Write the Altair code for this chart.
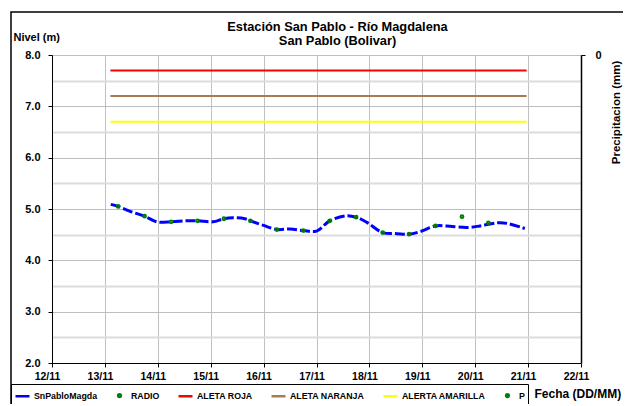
import altair as alt
import pandas as pd

# ---------------- data ----------------
line_times = [
    "2023-11-13T02:40", "2023-11-13T06:00", "2023-11-13T11:45", "2023-11-13T18:00",
    "2023-11-13T23:30", "2023-11-14T06:00", "2023-11-14T13:00", "2023-11-14T18:00",
    "2023-11-15T01:00", "2023-11-15T06:00", "2023-11-15T10:00", "2023-11-15T15:30",
    "2023-11-15T18:00", "2023-11-16T00:00", "2023-11-16T06:00", "2023-11-16T12:00",
    "2023-11-16T18:00", "2023-11-17T00:00", "2023-11-17T06:00", "2023-11-17T13:40",
    "2023-11-17T18:00", "2023-11-17T22:50", "2023-11-18T06:00", "2023-11-18T12:30",
    "2023-11-18T18:00", "2023-11-18T23:00", "2023-11-19T06:00", "2023-11-19T11:00",
    "2023-11-19T20:10", "2023-11-20T02:10", "2023-11-20T10:00", "2023-11-20T14:30",
    "2023-11-20T22:30",
]
line_values = [
    5.09, 5.05, 4.95, 4.86,
    4.75, 4.75, 4.77, 4.77,
    4.75, 4.81, 4.83, 4.81,
    4.77, 4.68, 4.60, 4.61,
    4.58, 4.57, 4.77, 4.87,
    4.84, 4.74, 4.54, 4.52,
    4.51, 4.56, 4.67, 4.67,
    4.64, 4.67, 4.73, 4.72,
    4.62,
]

radio_times = [
    "2023-11-13T06:00", "2023-11-13T18:00", "2023-11-14T06:00", "2023-11-14T18:00",
    "2023-11-15T06:00", "2023-11-15T18:00", "2023-11-16T06:00", "2023-11-16T18:00",
    "2023-11-17T06:00", "2023-11-17T18:00", "2023-11-18T06:00", "2023-11-18T18:00",
    "2023-11-19T06:00", "2023-11-19T18:00", "2023-11-20T06:00",
]
radio_values = [
    5.05, 4.86, 4.75, 4.77,
    4.81, 4.77, 4.60, 4.58,
    4.77, 4.84, 4.54, 4.51,
    4.67, 4.85, 4.73,
]

alert_names = ["ALETA ROJA", "ALETA NARANJA", "ALERTA AMARILLA"]
alert_levels = [7.7, 7.2, 6.7]
alert_colors = ["#ff0000", "#a97c50", "#ffff00"]
alert_start = "2023-11-13T02:30"
alert_end = "2023-11-20T23:20"

precip_values = []

legend_names = ["SnPabloMagda", "RADIO", "ALETA ROJA", "ALETA NARANJA", "ALERTA AMARILLA", "P"]
legend_colors = ["#0000ff", "#008000", "#ff0000", "#a97c50", "#ffff00", "#008000"]
LINE_SHAPE = "M-1,0L1,0"
DOT_SHAPE = "M-0.2,0A0.2,0.2 0 1,0 0.2,0A0.2,0.2 0 1,0 -0.2,0Z"
legend_shapes = [LINE_SHAPE, DOT_SHAPE, LINE_SHAPE, LINE_SHAPE, LINE_SHAPE, DOT_SHAPE]

day_ticks = list(range(12, 23))
y_ticks = [2.0, 2.5, 3.0, 3.5, 4.0, 4.5, 5.0, 5.5, 6.0, 6.5, 7.0, 7.5, 8.0]

FONT = "Liberation Sans"

# ---------------- scales / axes ----------------
x_scale = alt.Scale(domain=[alt.DateTime(year=2023, month=11, date=12),
                            alt.DateTime(year=2023, month=11, date=22)])
x_axis = alt.Axis(
    values=[alt.DateTime(year=2023, month=11, date=d) for d in day_ticks],
    format="%d/%m", labelFont=FONT, labelFontWeight="bold", labelFontSize=10.5,
    labelColor="black", labelFlush=False, labelOverlap=False, labelPadding=4, labelOffset=-5,
    tickColor="black", tickSize=4, domainColor="black", domainWidth=1,
    grid=True, gridColor="#c0c0c0", gridWidth=1,
    title="Fecha (DD/MM)", titleFont=FONT, titleFontWeight="bold", titleFontSize=12,
    titleColor="black", titleX=482, titleY=30, titleAlign="left", titleBaseline="middle",
    titleAngle=0,
)
y_scale = alt.Scale(domain=[2, 8], nice=False, zero=False)
y_axis = alt.Axis(
    values=y_ticks,
    labelExpr="datum.value % 1 === 0 ? format(datum.value, '.1f') : ''",
    labelFont=FONT, labelFontWeight="bold", labelFontSize=11, labelColor="black",
    labelPadding=8,
    tickSize=4,
    tickColor={"condition": {"test": "datum.value % 1 === 0", "value": "black"}, "value": "transparent"},
    domainColor="black", domainWidth=1,
    grid=True,
    gridColor={"condition": {"test": "datum.value % 1 === 0", "value": "#bdbdbd"}, "value": "#dcdcdc"},
    gridWidth={"condition": {"test": "datum.value % 1 === 0", "value": 1}, "value": 2},
    title="Nivel (m)", titleFont=FONT, titleFontWeight="bold", titleFontSize=11,
    titleColor="black", titleAngle=0, titleX=-39, titleY=-18, titleAlign="left",
    titleBaseline="middle",
)

legend = alt.Legend(
    title=None, orient="none", legendX=-41, legendY=329, direction="horizontal",
    strokeColor="black", fillColor="white", padding=3,
    labelFont=FONT, labelFontWeight="bold", labelFontSize=8.8, labelColor="black",
    labelOffset=3, columnPadding=13, symbolSize=196, symbolStrokeWidth=2.5,
    symbolFillColor="transparent",
)

# ---------------- layers ----------------
line_df = pd.DataFrame({"fecha": line_times, "nivel": line_values})
radio_df = pd.DataFrame({"fecha": radio_times, "nivel": radio_values, "serie": "RADIO"})

frame = alt.Chart(pd.DataFrame({"k": [0]})).mark_rect(
    filled=False, stroke="black", strokeWidth=1.5
).encode(x=alt.value(-41), x2=alt.value(640), y=alt.value(-43), y2=alt.value(380))

alerts = []
for name, lvl, col in zip(alert_names, alert_levels, alert_colors):
    adf = pd.DataFrame({"inicio": [alert_start], "fin": [alert_end], "nivel": [lvl], "serie": [name]})
    alerts.append(
        alt.Chart(adf).mark_rule(color=col, strokeWidth=2).encode(
            x=alt.X("inicio:T", scale=x_scale, axis=x_axis),
            x2="fin:T",
            y=alt.Y("nivel:Q", scale=y_scale, axis=y_axis),
        )
    )

level_line = alt.Chart(line_df).mark_line(
    color="#0000ff", strokeWidth=3, strokeDash=[10, 3], interpolate="catmull-rom"
).encode(
    x=alt.X("fecha:T", scale=x_scale, axis=x_axis),
    y=alt.Y("nivel:Q", scale=y_scale, axis=y_axis),
)

radio_pts = alt.Chart(radio_df).mark_point(
    filled=False, strokeWidth=2, size=196, opacity=1
).encode(
    x=alt.X("fecha:T", scale=x_scale, axis=x_axis),
    y=alt.Y("nivel:Q", scale=y_scale, axis=y_axis),
    color=alt.Color("serie:N", scale=alt.Scale(domain=legend_names, range=legend_colors), legend=legend),
    shape=alt.Shape("serie:N", scale=alt.Scale(domain=legend_names, range=legend_shapes), legend=legend),
)

main = alt.layer(frame, *alerts, level_line, radio_pts)

precip = alt.Chart(pd.DataFrame({"precip": pd.Series(precip_values, dtype=float)})).mark_point().encode(
    y=alt.Y("precip:Q",
            scale=alt.Scale(domain=[0, 100], reverse=True, nice=False),
            axis=alt.Axis(orient="right", values=[0], format="d",
                          labelFont=FONT, labelFontWeight="bold", labelFontSize=11, labelColor="black",
                          labelPadding=10, tickSize=4, tickColor="black",
                          domainColor="black", domainWidth=1.5, grid=False,
                          title="Precipitacion (mm)", titleFont=FONT, titleFontWeight="bold",
                          titleFontSize=11.5, titleColor="black", titleAngle=270,
                          titleX=35, titleY=57, titleAlign="center", titleBaseline="middle")),
)

chart = alt.layer(main, precip).resolve_scale(y="independent").properties(
    width=529, height=308,
    autosize=alt.AutoSizeParams(type="none"),
    padding={"left": 44, "top": 47, "right": 42, "bottom": 41},
    title=alt.Title(
        text=["Estación San Pablo - Río Magdalena", "San Pablo (Bolivar)"],
        font=FONT, fontWeight="bold", fontSize=12.8, color="black",
        anchor="middle", dx=21, offset=-37, lineHeight=14.5,
    ),
).configure_view(strokeWidth=0).configure(background="white")

chart.save("out.html", embed_options={"renderer": "svg", "actions": False})
